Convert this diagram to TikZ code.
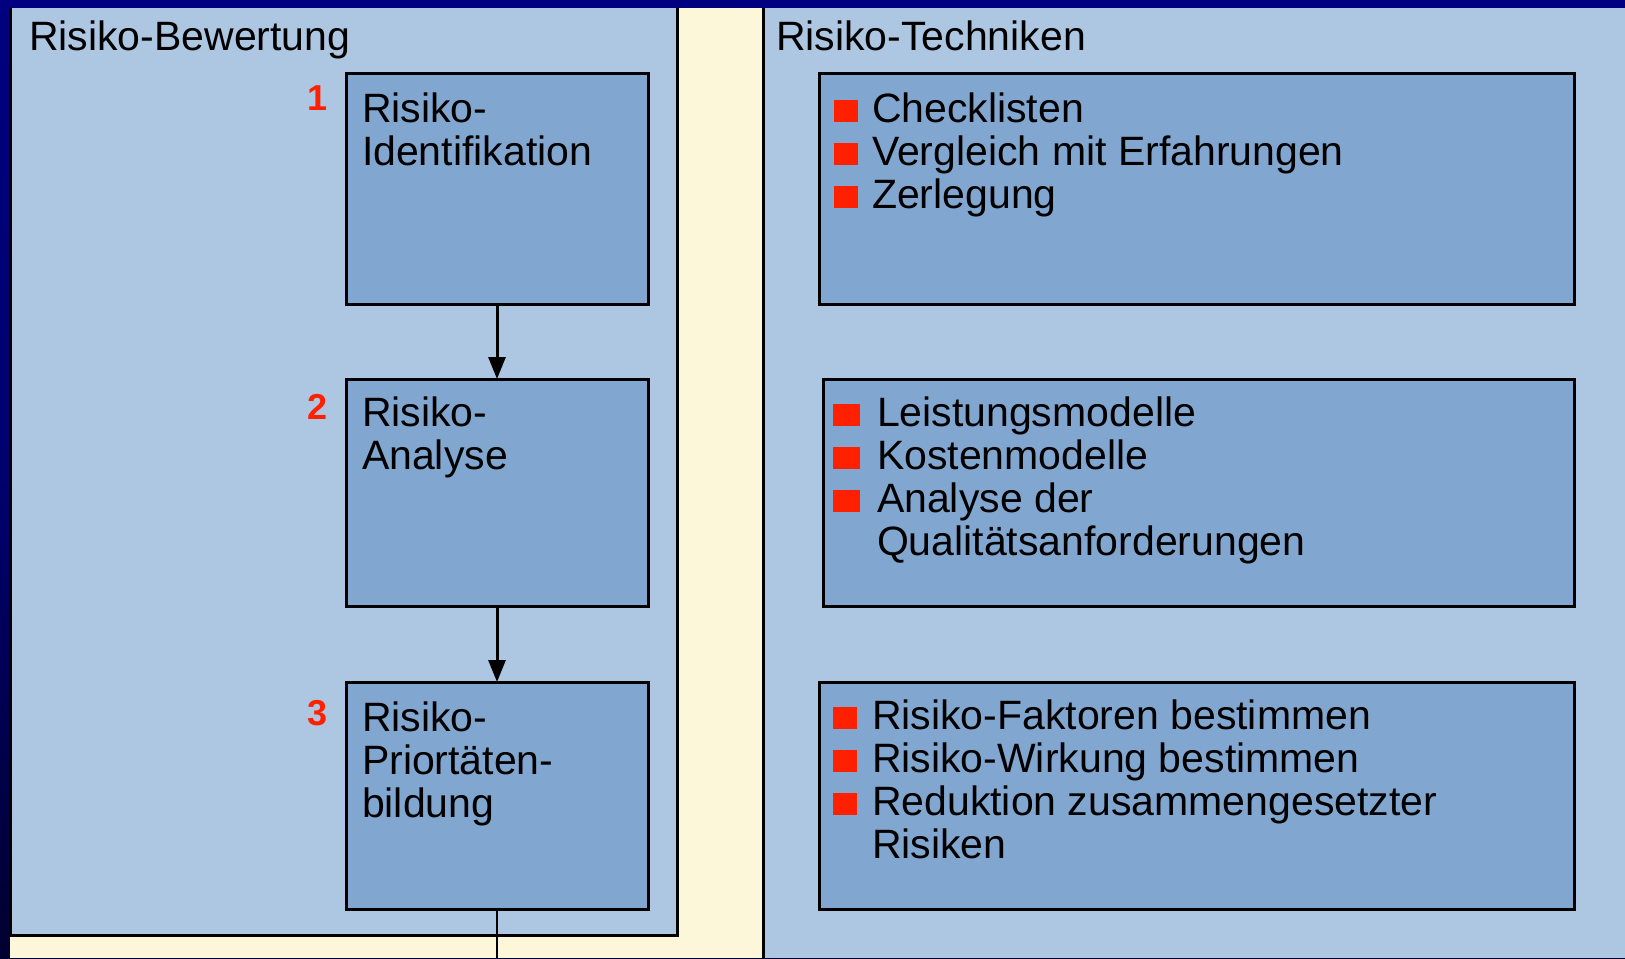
\documentclass[tikz,border=0pt]{standalone}
\usepackage{fontspec}
\setmainfont{Liberation Sans}
\usetikzlibrary{arrows.meta}
\definecolor{navyA}{RGB}{0,0,128}
\definecolor{navyB}{RGB}{0,0,48}
\definecolor{panelblue}{RGB}{173,198,225}
\definecolor{boxblue}{RGB}{129,167,208}
\definecolor{creamy}{RGB}{252,247,216}
\definecolor{bred}{RGB}{255,32,0}
\newcommand\rbul[2]{\makebox[#2][l]{\textcolor{bred}{\rule{#1}{11pt}}}}
\tikzset{
  bigtext/.style={font={\fontsize{20.5pt}{21.5pt}\selectfont}, inner sep=0pt, outer sep=0pt, align=left, anchor=base west},
  numtext/.style={font={\fontsize{18pt}{20pt}\selectfont\bfseries}, text=bred, inner sep=0pt, anchor=base},
  stepbox/.style={draw=black, line width=1.5pt, fill=boxblue, inner sep=0pt, outer sep=0pt, rectangle},
  border/.style={draw=black, line width=1.5pt},
  arr/.style={draw=black, line width=1.5pt, -{Triangle[length=11pt,width=8.5pt]}},
}
\begin{document}
\begin{tikzpicture}[x=0.5pt,y=-0.5pt]
\useasboundingbox (0,0) rectangle (1625,958);
% background
\shade[top color=navyA, bottom color=navyB, middle color={rgb,255:red,0;green,0;blue,110}] (0,0) rectangle (1625,958);
\fill[creamy] (10,8) rectangle (763,958);
% left panel
\fill[panelblue] (10,8) rectangle (677,935);
\draw[border] (10,8) -- (10,935) -- (677,935) -- (677,8);
% right panel
\fill[panelblue] (763,8) rectangle (1625,958);
\draw[border] (763,8) -- (763,958);
% titles
\node[bigtext] (t1) at (29,50) {Risiko-Bewertung};
\node[bigtext] (t2) at (776,50) {Risiko-Techniken};
% left boxes
\node[stepbox, minimum width=151pt, minimum height=115.5pt] (L1) at (497,188.5) {};
\node[stepbox, minimum width=151pt, minimum height=113.5pt] (L2) at (497,492.5) {};
\node[stepbox, minimum width=151pt, minimum height=113.5pt] (L3) at (497,795.5) {};
% multi-line nodes: base anchor = baseline of last line
\node[bigtext] (L1t) at (362,165) {Risiko-\\Identifikation};
\node[bigtext] (L2t) at (362,469) {Risiko-\\Analyse};
\node[bigtext] (L3t) at (362,817) {Risiko-\\Priortäten-\\bildung};
\node[numtext] (n1) at (318,110) {1};
\node[numtext] (n2) at (318,419) {2};
\node[numtext] (n3) at (318,725) {3};
% connectors
\coordinate (bot) at (497,958);
\draw[arr] (L1.south) -- (L2.north);
\draw[arr] (L2.south) -- (L3.north);
\draw[draw=black, line width=1.2pt] (L3.south) -- (bot);
% right boxes
\node[stepbox, minimum width=377.5pt, minimum height=115.5pt] (R1) at (1196.5,188.5) {};
\node[stepbox, minimum width=375.5pt, minimum height=113.5pt] (R2) at (1198.5,492.5) {};
\node[stepbox, minimum width=377.5pt, minimum height=113.5pt] (R3) at (1196.5,795.5) {};
\node[bigtext] (R1t) at (834,208) {\rbul{12pt}{19pt}Checklisten\\
\rbul{12pt}{19pt}Vergleich mit Erfahrungen\\
\rbul{12pt}{19pt}Zerlegung};
\node[bigtext] (R2t) at (833,555) {\rbul{13.5pt}{22pt}Leistungsmodelle\\
\rbul{13.5pt}{22pt}Kostenmodelle\\
\rbul{13.5pt}{22pt}Analyse der\\
\hspace*{22pt}Qualitätsanforderungen};
\node[bigtext] (R3t) at (833,858) {\rbul{12pt}{19.5pt}Risiko-Faktoren bestimmen\\
\rbul{12pt}{19.5pt}Risiko-Wirkung bestimmen\\
\rbul{12pt}{19.5pt}Reduktion zusammengesetzter\\
\hspace*{19.5pt}Risiken};
\end{tikzpicture}
\end{document}
